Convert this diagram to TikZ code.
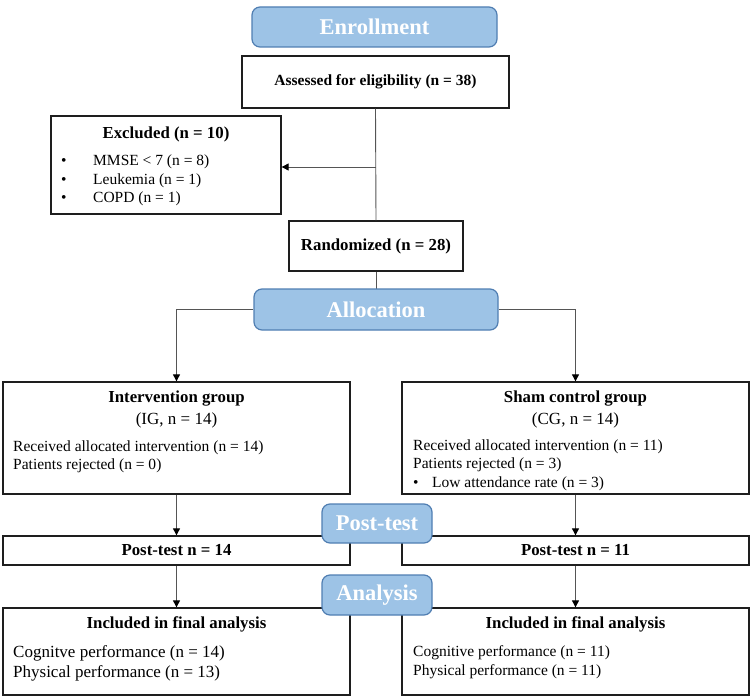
\documentclass[tikz,border=0pt]{standalone}
\usepackage{fontspec}
\setmainfont{Liberation Serif}
\usetikzlibrary{arrows.meta}
\definecolor{hdrfill}{RGB}{157,195,230}
\definecolor{hdrdraw}{RGB}{80,126,178}
\definecolor{boxdraw}{RGB}{30,30,30}
\definecolor{linecol}{RGB}{85,85,85}
\tikzset{
  hdr/.style={draw=hdrdraw, line width=1.2pt, fill=hdrfill, rounded corners=8pt,
    text=white, font=\fontsize{22.5}{26}\selectfont\bfseries, inner sep=0pt},
  box/.style={draw=boxdraw, line width=1.3pt, fill=white, inner sep=0pt},
  hd/.style={font=\fontsize{16.8}{20}\selectfont\bfseries, inner sep=0pt},
  hdsmall/.style={font=\fontsize{15.5}{18}\selectfont\bfseries},
  tx/.style={font=\fontsize{15.5}{18}\selectfont, inner sep=0pt, anchor=west},
  txc/.style={font=\fontsize{17}{20}\selectfont, inner sep=0pt},
  txl/.style={font=\fontsize{17}{20}\selectfont, inner sep=0pt, anchor=west},
  conn/.style={draw=linecol, line width=0.9pt},
  arr/.style={conn, -{Triangle[length=7pt,width=7pt,color=black]}},
}
\begin{document}
\begin{tikzpicture}[x=1pt,y=-1pt]
\useasboundingbox (0,0) rectangle (752,698);

% top part
\node[hdr, minimum width=245pt, minimum height=40pt] (enroll) at (374.5,27) {Enrollment};
\node[box, hdsmall, minimum width=267pt, minimum height=52pt] (assess) at (375.5,82) {Assessed for eligibility (n = 38)};

\node[box, minimum width=230pt, minimum height=98pt] (excl) at (166,165) {};
\node[hd] (exclt) at (166,134) {Excluded (n = 10)};
\node[tx] (b1) at (61,162) {•};
\node[tx] (e1) at (93,162) {MMSE < 7 (n = 8)};
\node[tx] (b2) at (61,181) {•};
\node[tx] (e2) at (93,181) {Leukemia (n = 1)};
\node[tx] (b3) at (61,199) {•};
\node[tx] (e3) at (93,199) {COPD (n = 1)};

\node[box, hd, minimum width=174pt, minimum height=50pt] (rand) at (376,246) {Randomized (n = 28)};

\coordinate (br) at (376,167);
\draw[conn] (assess.south) -- (rand.north);
\draw[arr] (br) -- (br -| excl.east);
\draw[conn] (rand.south) -- (376,289);

\node[hdr, minimum width=244pt, minimum height=41pt] (alloc) at (376,309.5) {Allocation};

% groups
\node[box, minimum width=347pt, minimum height=112pt] (ig) at (176.5,438) {};
\node[hd] (igt) at (176.5,399) {Intervention group};
\node[txc] (igs) at (176.5,420) {(IG, n = 14)};
\node[tx] (ig1) at (13,448) {Received allocated intervention (n = 14)};
\node[tx] (ig2) at (13,466) {Patients rejected (n = 0)};

\node[box, minimum width=347pt, minimum height=112pt] (cg) at (575.5,438) {};
\node[hd] (cgt) at (575.5,399) {Sham control group};
\node[txc] (cgs) at (575.5,420) {(CG, n = 14)};
\node[tx] (cg1) at (413,447) {Received allocated intervention (n = 11)};
\node[tx] (cg2) at (413,465) {Patients rejected (n = 3)};
\node[tx] (cgb) at (413,484) {•};
\node[tx] (cg3) at (432,484) {Low attendance rate (n = 3)};

\draw[arr] (alloc.west) -| (ig.north);
\draw[arr] (alloc.east) -| (cg.north);

% post-test
\node[box, hd, minimum width=347pt, minimum height=29pt] (pt1) at (176.5,550.5) {Post-test n = 14};
\node[box, hd, minimum width=347pt, minimum height=29pt] (pt2) at (575.5,550.5) {Post-test n = 11};
\draw[arr] (ig.south) -- (pt1.north);
\draw[arr] (cg.south) -- (pt2.north);

% final analysis
\node[box, minimum width=347pt, minimum height=87pt] (fa1) at (176.5,651.5) {};
\node[hd] (fa1t) at (176.5,624) {Included in final analysis};
\node[txl] (fa11) at (13,653) {Cognitve performance (n = 14)};
\node[txl] (fa12) at (13,673) {Physical performance (n = 13)};

\node[box, minimum width=347pt, minimum height=87pt] (fa2) at (575.5,651.5) {};
\node[hd] (fa2t) at (575.5,624) {Included in final analysis};
\node[tx] (fa21) at (413,653) {Cognitive performance (n = 11)};
\node[tx] (fa22) at (413,672) {Physical performance (n = 11)};

\draw[arr] (pt1.south) -- (fa1.north);
\draw[arr] (pt2.south) -- (fa2.north);

\node[hdr, minimum width=110pt, minimum height=39pt] (post) at (377,523.5) {Post-test};
\node[hdr, minimum width=110pt, minimum height=40pt] (anal) at (377,595) {Analysis};
\end{tikzpicture}
\end{document}
